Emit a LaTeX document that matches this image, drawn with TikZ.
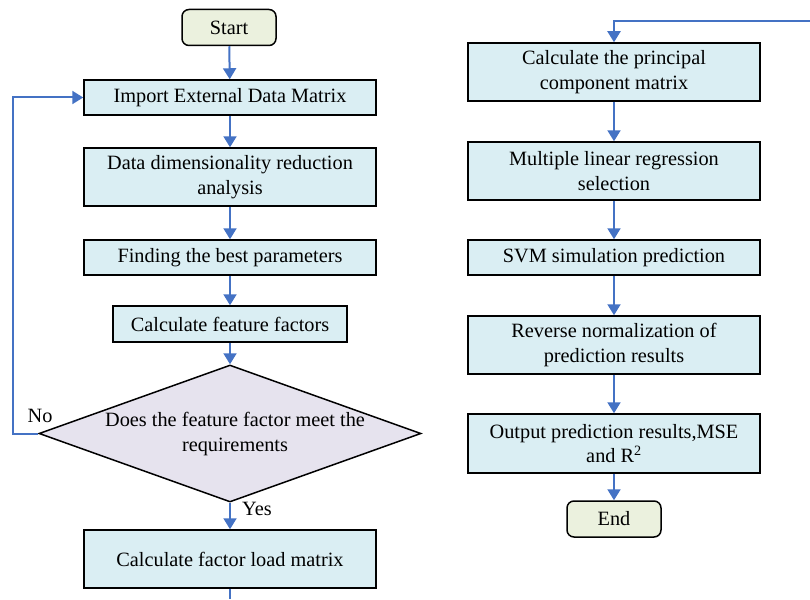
\documentclass[tikz,border=0pt]{standalone}
\usepackage{fontspec}
\setmainfont{Liberation Serif}
\usetikzlibrary{shapes.geometric,arrows.meta}
\definecolor{procfill}{HTML}{DAEEF3}
\definecolor{termfill}{HTML}{EBF1DE}
\definecolor{decfill}{HTML}{E6E3EE}
\definecolor{flowblue}{HTML}{4472C4}
\begin{document}
\begin{tikzpicture}[x=1pt,y=-1pt,
  every node/.style={font=\fontsize{20.3}{24.5}\selectfont},
  proc/.style={draw=black, line width=1.5pt, fill=procfill, minimum width=292pt, align=center, inner sep=0pt},
  term/.style={draw=black, line width=1.5pt, fill=termfill, rounded corners=7pt, minimum width=94pt, minimum height=36pt, inner sep=0pt},
  decision/.style={diamond, draw=black, line width=1.5pt, fill=decfill, minimum width=382pt, minimum height=137pt, inner sep=0pt},
  flow/.style={draw=flowblue, line width=2pt, -{Triangle[width=13pt,length=11pt]}},
  plain/.style={draw=flowblue, line width=2pt},
]
\useasboundingbox (0,0) rectangle (810,599);

% left column
\node[term] (start) at (229,27.5) {Start};
\node[proc, minimum height=35pt] (imp) at (230,97.5) {Import External Data Matrix};
\node[proc, minimum height=58pt] (dim) at (230,177) {Data dimensionality reduction\\analysis};
\node[proc, minimum height=35pt] (best) at (230,257.5) {Finding the best parameters};
\node[proc, minimum width=234pt, minimum height=36pt] (feat) at (230,324) {Calculate feature factors};
\node[decision] (dec) at (230,433.5) {};
\node[align=center, inner sep=0pt] (dectext) at (235,434) {Does the feature factor meet the\\requirements};
\node[proc, minimum height=58pt] (load) at (230,559) {Calculate factor load matrix};
\coordinate (loopx) at (13,433.5);
\coordinate (loadexit) at (230,599);

\node[inner sep=0pt] (no) at (40,416) {No};
\node[inner sep=0pt] (yes) at (257,509) {Yes};

% right column
\coordinate (entry) at (810,21);
\node[proc, minimum height=58pt] (pca) at (614,72) {Calculate the principal\\component matrix};
\node[proc, minimum height=58pt] (mlr) at (614,171) {Multiple linear regression\\selection};
\node[proc, minimum height=35pt] (svm) at (614,257.5) {SVM simulation prediction};
\node[proc, minimum height=58pt] (rev) at (614,345) {Reverse normalization of\\prediction results};
\node[proc, minimum height=59pt] (out) at (614,443.5) {Output prediction results,MSE\\and R\textsuperscript{2}};
\node[term] (end) at (614,519) {End};

% connectors
\draw[flow] (start) -- (imp);
\draw[flow] (imp) -- (dim);
\draw[flow] (dim) -- (best);
\draw[flow] (best) -- (feat);
\draw[flow] (feat) -- (dec.north);
\draw[flow] (dec.south) -- (load);
\draw[plain] (load) -- (loadexit);
\draw[flow] (dec.west) -- (loopx) |- (imp.west);

\draw[flow] (entry) -| (pca.north);
\draw[flow] (pca) -- (mlr);
\draw[flow] (mlr) -- (svm);
\draw[flow] (svm) -- (rev);
\draw[flow] (rev) -- (out);
\draw[flow] (out) -- (end);
\end{tikzpicture}
\end{document}
